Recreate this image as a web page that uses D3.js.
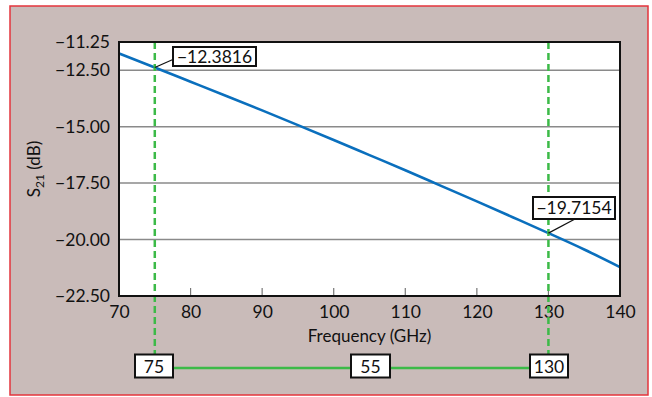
<!DOCTYPE html>
<html><head><meta charset="utf-8">
<script src="https://cdn.jsdelivr.net/npm/d3@7"></script>
<style>body{margin:0;background:#fff}svg{display:block}text{font-family:Lato,"Open Sans",sans-serif;fill:#111}</style>
</head><body><svg id="c" width="652" height="397"></svg>
<script>
const freq = [70,75,80,85,90,95,100,105,110,115,120,125,130,135,140];
const s21 = [-11.76,-12.3816,-13.01,-13.64,-14.28,-14.93,-15.59,-16.26,-16.93,-17.62,-18.31,-19.01,-19.7154,-20.44,-21.22];
const yTicks = [-22.5,-20,-17.5,-15,-12.5,-11.25];
const xTicks = [70,80,90,100,110,120,130,140];
const markers = [75,130];
const markerVals = ["−12.3816","−19.7154"];
const spanLabels = ["75","55","130"];

const svg = d3.select("#c");
svg.append("rect").attr("x",10).attr("y",6).attr("width",638).attr("height",389)
  .attr("fill","#c9bbb9").attr("stroke","#e3343c").attr("stroke-width",1.5);

const L=119,R=620,T=42,B=296;
const x = d3.scaleLinear().domain([70,140]).range([L,R]);
const y = d3.scaleLinear().domain([-22.5,-11.25]).range([B,T]);

svg.append("rect").attr("x",L).attr("y",T).attr("width",R-L).attr("height",B-T).attr("fill","#fff");

svg.append("g").selectAll("line").data(yTicks.filter(d=>d>-22.5&&d<-11.25)).join("line")
  .attr("x1",L).attr("x2",R).attr("y1",d=>y(d)).attr("y2",d=>y(d))
  .attr("stroke","#8a8a8a").attr("stroke-width",1.5);
svg.append("g").selectAll("line").data(xTicks.filter(d=>d>70&&d<140)).join("line")
  .attr("x1",d=>x(d)).attr("x2",d=>x(d)).attr("y1",B).attr("y2",B-8)
  .attr("stroke","#777").attr("stroke-width",1.2);

const yAxis = svg.append("g").attr("transform",`translate(${L},0)`)
  .call(d3.axisLeft(y).tickValues(yTicks).tickSize(0).tickPadding(9).tickFormat(d=>d3.format(".2f")(d).replace("-","−")));
yAxis.select(".domain").remove();
yAxis.selectAll("text").attr("font-size",17.5).attr("font-family","Lato,sans-serif").attr("fill","#111");

const xAxis = svg.append("g").attr("transform",`translate(0,${B})`)
  .call(d3.axisBottom(x).tickValues(xTicks).tickSize(0).tickPadding(10));
xAxis.select(".domain").remove();
xAxis.selectAll("text").attr("font-size",17.5).attr("font-family","Lato,sans-serif").attr("fill","#111");

svg.append("text").attr("x",(L+R)/2).attr("y",342).attr("text-anchor","middle").attr("font-size",17).text("Frequency (GHz)");
const yt = svg.append("text").attr("transform",`translate(40,${(T+B)/2}) rotate(-90)`).attr("text-anchor","middle").attr("font-size",17);
yt.append("tspan").text("S");
yt.append("tspan").attr("font-size",12).attr("dy",4).text("21");
yt.append("tspan").attr("dy",-4).text(" (dB)");

svg.append("path").datum(freq.map((f,i)=>[f,s21[i]]))
  .attr("d",d3.line().x(d=>x(d[0])).y(d=>y(d[1])).curve(d3.curveMonotoneX))
  .attr("fill","none").attr("stroke","#0a6fbd").attr("stroke-width",2.6);

svg.append("g").selectAll("line").data(markers).join("line")
  .attr("x1",d=>x(d)).attr("x2",d=>x(d)).attr("y1",T).attr("y2",355)
  .attr("stroke","#3cba48").attr("stroke-width",2.5).attr("stroke-dasharray","7,4");

const boxCx = [154, 370.5, 549];
svg.append("line").attr("x1",boxCx[0]).attr("x2",boxCx[2]).attr("y1",368).attr("y2",368)
  .attr("stroke","#3cba48").attr("stroke-width",2.5);
const bw=[38,39,38];
spanLabels.forEach((t,i)=>{
  svg.append("rect").attr("x",boxCx[i]-bw[i]/2).attr("y",354.5).attr("width",bw[i]).attr("height",23)
    .attr("fill","#fff").attr("stroke","#111").attr("stroke-width",2);
  svg.append("text").attr("x",boxCx[i]).attr("y",372.5).attr("text-anchor","middle").attr("font-size",17.5).text(t);
});

const ann = [
  {bx:173,by:47,bw:83,bh:19,lx:174,ly:59},
  {bx:533,by:197,bw:82,bh:22,lx:575,ly:219}
];
markers.forEach((m,i)=>{
  const a=ann[i];
  const v = s21[freq.indexOf(m)];
  svg.append("line").attr("x1",x(m)).attr("y1",y(v)).attr("x2",a.lx).attr("y2",a.ly).attr("stroke","#111").attr("stroke-width",1.2);
  svg.append("rect").attr("x",a.bx).attr("y",a.by).attr("width",a.bw).attr("height",a.bh)
    .attr("fill","#fff").attr("stroke","#111").attr("stroke-width",2);
  svg.append("text").attr("x",a.bx+a.bw/2).attr("y",a.by+a.bh/2+6).attr("text-anchor","middle").attr("font-size",17.5).text(markerVals[i]);
});

svg.append("rect").attr("x",L).attr("y",T).attr("width",R-L).attr("height",B-T).attr("fill","none").attr("stroke","#111").attr("stroke-width",2);
</script></body></html>
